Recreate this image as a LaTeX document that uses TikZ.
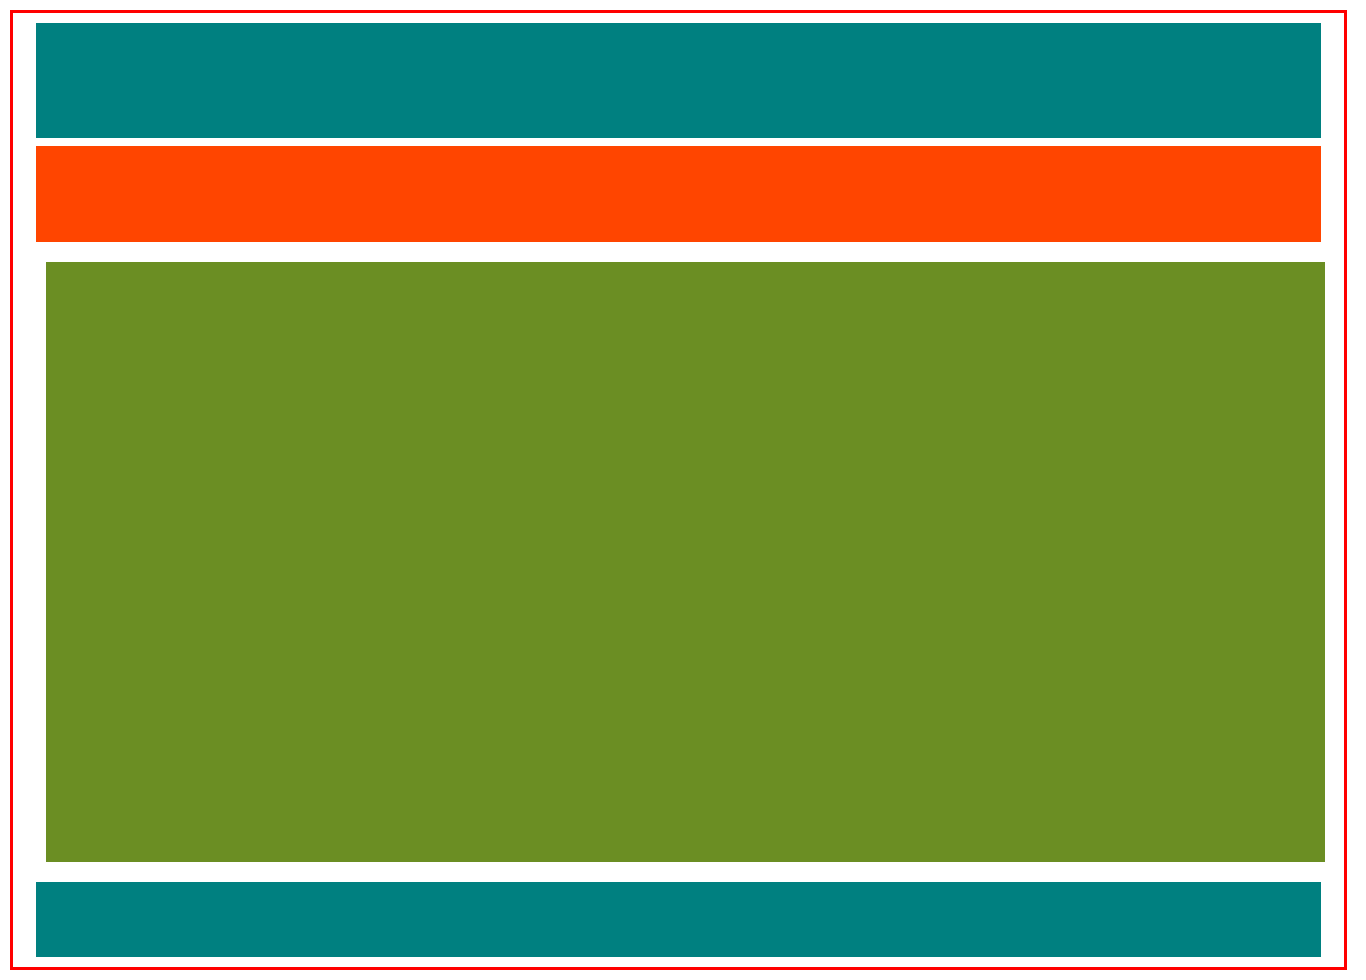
\documentclass[tikz,border=0pt]{standalone}
\definecolor{tealband}{HTML}{008080}
\definecolor{orangeband}{HTML}{FF4500}
\definecolor{olivemain}{HTML}{6B8E23}
\definecolor{frame}{HTML}{FF0000}
\tikzset{
  band/.style={draw=none},
  outerframe/.style={draw=frame, line width=3pt}
}
\begin{document}
\begin{tikzpicture}[x=1pt,y=-1pt]
\useasboundingbox (0,0) rectangle (1366,980);
\fill[band, tealband] (36,23) rectangle (1321,138);
\fill[band, orangeband] (36,146) rectangle (1321,242);
\fill[band, olivemain] (46,262) rectangle (1325,862);
\fill[band, tealband] (36,882) rectangle (1321,957);
\draw[outerframe] (11.5,11.5) rectangle (1345.5,968.5);
\end{tikzpicture}
\end{document}
